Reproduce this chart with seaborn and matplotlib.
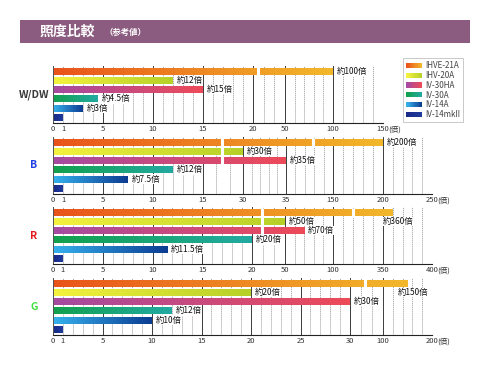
import numpy as np
import pandas as pd
import matplotlib
matplotlib.use("Agg")
import matplotlib.pyplot as plt
import seaborn as sns
from matplotlib.patches import Rectangle, Patch
from matplotlib.colors import LinearSegmentedColormap, to_rgb
from matplotlib.legend_handler import HandlerBase

# ---------------- data ----------------
models = ["IHVE-21A", "IHV-20A", "IV-30HA", "IV-30A", "IV-14A", "IV-14mkII"]
panel_names = ["W/DW", "B", "R", "G"]

wdw_values = [100, 12, 15, 4.5, 3, 1]
b_values = [200, 30, 35, 12, 7.5, 1]
r_values = [360, 50, 70, 20, 11.5, 1]
g_values = [150, 20, 30, 12, 10, 1]

wdw_labels = ["約100倍", "約12倍", "約15倍", "約4.5倍", "約3倍", ""]
b_labels = ["約200倍", "約30倍", "約35倍", "約12倍", "約7.5倍", ""]
r_labels = ["約360倍", "約50倍", "約70倍", "約20倍", "約11.5倍", ""]
g_labels = ["約150倍", "約20倍", "約30倍", "約12倍", "約10倍", ""]

wdw_ticks = [0, 1, 5, 10, 15, 20, 50, 100, 150]
b_ticks = [0, 1, 5, 10, 15, 30, 35, 150, 200, 250]
r_ticks = [0, 1, 5, 10, 15, 20, 50, 100, 350, 400]
g_ticks = [0, 1, 5, 10, 15, 20, 25, 30, 100, 200]
unit_suffix = "(倍)"

title_main = "照度比較"
title_sub = "（参考値）"

# ---------------- layout / style config ----------------
W, H = 490, 370
# piecewise (broken) axis: value knots -> pixel offsets
scale_knots = {
    "W/DW": ([0, 20, 50, 100, 150], [0, 200, 232, 280, 330]),
    "B": ([0, 15, 30, 35, 150, 200, 250], [0, 150, 190, 233, 280, 330, 379]),
    "R": ([0, 20, 50, 100, 350, 400], [0, 199, 232, 280, 330, 379]),
    "G": ([0, 30, 100, 200], [0, 297, 330, 379]),
}
minor_subdiv = {
    "W/DW": [1, 4, 5, 5, 5, 3, 5, 5],
    "B": [1, 4, 5, 5, 3, 5, 5, 5, 5],
    "R": [1, 4, 5, 5, 5, 3, 5, 5, 5],
    "G": [1, 4, 5, 5, 5, 5, 5, 3, 5],
}
break_marks = {"W/DW": [25], "B": [22, 100], "R": [29, 200], "G": [62]}
below_label = {"R": True, "G": True}
panel_bottom_px = [123, 194, 264, 335]
panel_height_px = 57
axes_left_px = 53
panel_label_colors = ["#3a3a3a", "#1f3fe0", "#e41a1a", "#3ee03e"]

grad_start = ["#e9531b", "#f4f23e", "#a54aa2", "#12a04c", "#36b2ee", "#182a88"]
grad_end = ["#f2b82a", "#b6d028", "#ee4a58", "#22aaa2", "#0b3c92", "#1e3a9c"]

plt.rcParams["font.family"] = ["Noto Sans CJK JP", "DejaVu Sans"]

values_all = [wdw_values, b_values, r_values, g_values]
labels_all = [wdw_labels, b_labels, r_labels, g_labels]
ticks_all = [wdw_ticks, b_ticks, r_ticks, g_ticks]

fig = plt.figure(figsize=(W / 100, H / 100), dpi=100)
fig.patch.set_facecolor("white")

# header band
fig.patches.append(Rectangle((20 / W, 1 - 43 / H), 450 / W, 23 / H,
                             transform=fig.transFigure, facecolor="#8b5c7f",
                             edgecolor="none", zorder=0))
fig.text(40 / W, 1 - 31.5 / H, title_main, color="white", fontsize=10,
         fontweight="bold", va="center", ha="left")
fig.text(104 / W, 1 - 32 / H, title_sub, color="white", fontsize=6,
         fontweight="bold", va="center", ha="left")


def make_funcs(vals, px):
    v = np.r_[-1e4, vals, vals[-1] + 1e4]
    p = np.r_[-1e5, px, px[-1] + 1e4]
    return (lambda x: np.interp(x, v, p), lambda y: np.interp(y, p, v))


grid_minor_ls = (0, (1.3, 1.3))

for k, name in enumerate(panel_names):
    vals = values_all[k]
    ticks = ticks_all[k]
    kv, kp = scale_knots[name]
    width_px = kp[-1]
    bottom = panel_bottom_px[k]
    ax = fig.add_axes([axes_left_px / W, 1 - bottom / H, width_px / W, panel_height_px / H])

    df = pd.DataFrame({"model": models, "value": vals})
    sns.barplot(data=df, x="value", y="model", hue="model", palette=grad_start,
                saturation=1, width=0.76, legend=False, ax=ax, orient="h",
                edgecolor="none")
    fwd, inv = make_funcs(kv, kp)
    ax.set_xscale("function", functions=(fwd, inv))
    ax.set_xlim(0, ticks[-1])
    ax.set_ylim(5.62, -0.58)

    # gradients on bars (linear in screen space)
    to_axes = ax.transData + ax.transAxes.inverted()
    for i, p in enumerate(list(ax.patches[:len(models)])):
        x0, y0 = p.get_x(), p.get_y()
        w, h = p.get_width(), p.get_height()
        (ax0, ay0), (ax1, ay1) = to_axes.transform([(x0, y0), (x0 + w, y0 + h)])
        cm = LinearSegmentedColormap.from_list("g%d" % i, [grad_start[i], grad_end[i]])
        ax.imshow(np.linspace(0, 1, 256)[None, :], cmap=cm, aspect="auto",
                  extent=(ax0, ax1, min(ay0, ay1), max(ay0, ay1)),
                  transform=ax.transAxes, zorder=2.2, interpolation="bilinear")
    ax.set_xlim(0, ticks[-1])
    ax.set_ylim(5.62, -0.58)

    # break marks
    for b in break_marks[name]:
        for i, v in enumerate(vals):
            if v > b:
                ax.plot([b, b], [i - 0.5, i + 0.5], color="white", lw=2.2,
                        solid_capstyle="butt", zorder=2.6)

    # ticks & grid
    ax.set_xticks(ticks)
    ax.set_xticklabels([str(t) for t in ticks])
    minors = []
    for j, n in enumerate(minor_subdiv[name]):
        seg = np.linspace(ticks[j], ticks[j + 1], n + 1)[1:-1]
        minors.extend(seg.tolist())
    ax.set_xticks(minors, minor=True)
    ax.set_axisbelow(True)
    ax.grid(axis="x", which="major", color="#3c3c3c", lw=0.7)
    ax.grid(axis="x", which="minor", color="#808080", lw=0.55, linestyle=grid_minor_ls)
    ax.grid(axis="y", visible=False)
    mt = ax.xaxis.get_major_ticks()
    mt[1].gridline.set_linestyle(grid_minor_ls)
    mt[1].gridline.set_color("#808080")
    mt[1].gridline.set_linewidth(0.55)
    ax.tick_params(axis="x", which="both", length=0, pad=1.2, labelsize=5.5,
                   labelcolor="#333333")
    ax.tick_params(axis="y", left=False, labelleft=False)
    ax.set_xlabel("")
    ax.set_ylabel("")
    for s in ["top", "right"]:
        ax.spines[s].set_visible(False)
    ax.spines["left"].set_color("#555555")
    ax.spines["left"].set_linewidth(0.7)
    ax.spines["bottom"].set_color("#222222")
    ax.spines["bottom"].set_linewidth(0.8)

    ax.annotate(unit_suffix, xy=(ticks[-1], 0), xycoords=("data", "axes fraction"),
                xytext=(4.0, -4.4), textcoords="offset points", ha="left",
                va="center", fontsize=5.5, color="#333333", annotation_clip=False)

    # value labels
    for i, (v, lab) in enumerate(zip(vals, labels_all[k])):
        if not lab:
            continue
        if i == 0 and below_label.get(name):
            ax.annotate(lab, xy=(v, 1), xytext=(4, 0), textcoords="offset points",
                        ha="center", va="center", fontsize=6, color="#111111",
                        zorder=5, annotation_clip=False,
                        bbox=dict(fc="white", ec="none", pad=0.2))
        else:
            ax.annotate(lab, xy=(v, i), xytext=(2.5, 0), textcoords="offset points",
                        ha="left", va="center", fontsize=6, color="#111111",
                        zorder=5, annotation_clip=False,
                        bbox=dict(fc="white", ec="none", pad=0.2))

    # panel label
    ax.annotate(name, xy=(0, 0.5), xycoords="axes fraction", xytext=(-19, 0),
                textcoords="offset pixels", ha="center", va="center",
                fontsize=7.5, fontweight="bold", color=panel_label_colors[k],
                annotation_clip=False)


# legend with gradient swatches
class GradHandler(HandlerBase):
    def create_artists(self, legend, orig_handle, xdescent, ydescent, width,
                       height, fontsize, trans):
        c0 = np.array(to_rgb(orig_handle.c0))
        c1 = np.array(to_rgb(orig_handle.c1))
        n = 14
        arts = []
        for i in range(n):
            t = i / (n - 1)
            arts.append(Rectangle((-xdescent + i * width / n, -ydescent),
                                  width / n * 1.08, height,
                                  facecolor=c0 * (1 - t) + c1 * t,
                                  edgecolor="none", transform=trans))
        return arts


handles = []
for i, m in enumerate(models):
    hnd = Patch(label=m)
    hnd.c0, hnd.c1 = grad_start[i], grad_end[i]
    handles.append(hnd)
leg = fig.legend(handles=handles, labels=models, loc="upper left",
                 bbox_to_anchor=(403 / W, 1 - 58 / H), fontsize=5.8,
                 handlelength=2.0, handleheight=0.6, labelspacing=0.1,
                 borderpad=0.4, handletextpad=0.35, borderaxespad=0,
                 fancybox=False, frameon=True,
                 handler_map={h: GradHandler() for h in handles})
leg.get_frame().set_edgecolor("#b0b0b0")
leg.get_frame().set_linewidth(0.6)
for t in leg.get_texts():
    t.set_color("#444444")

fig.savefig("out.png", dpi=100)
